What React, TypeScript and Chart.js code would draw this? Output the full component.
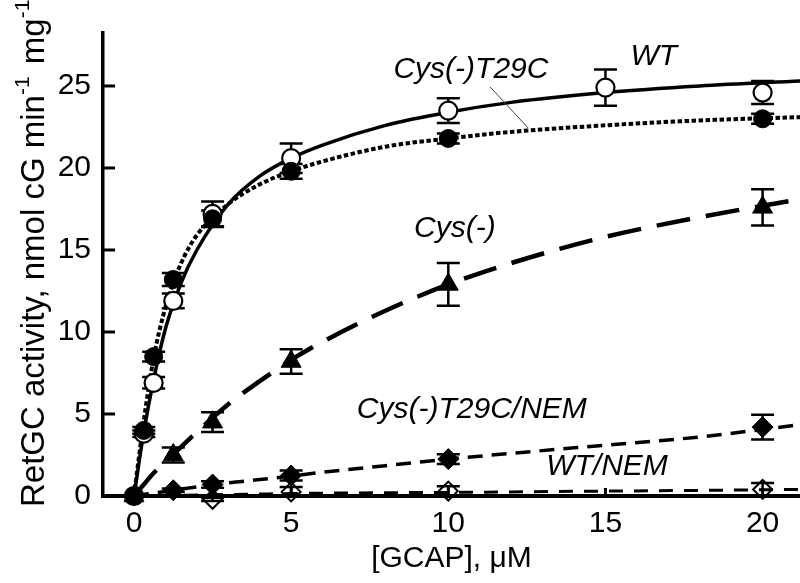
import React, { useEffect, useRef } from "react";
import { Chart, registerables } from "chart.js";
Chart.register(...registerables);

// ---- data ----
const gcapWT = [0, 0.3125, 0.625, 1.25, 2.5, 5, 10, 15, 20];
const activityWT = [0, 3.8, 6.9, 11.9, 17.2, 20.6, 23.5, 24.9, 24.6];
const errWT = [0, 0.2, 0.35, 0.45, 0.75, 0.9, 0.75, 1.1, 0.7];

const gcapT29C = [0, 0.3125, 0.625, 1.25, 2.5, 5, 10, 20];
const activityT29C = [0, 4.0, 8.5, 13.2, 16.9, 19.8, 21.8, 23.0];
const errT29C = [0, 0.2, 0.3, 0.4, 0.5, 0.45, 0.3, 0.3];

const gcapCys = [0, 1.25, 2.5, 5, 10, 20];
const activityCys = [0, 2.5, 4.5, 8.2, 12.9, 17.6];
const errCys = [0, 0.45, 0.6, 0.75, 1.3, 1.1];

const gcapT29CNEM = [1.25, 2.5, 5, 10, 20];
const activityT29CNEM = [0.35, 0.7, 1.25, 2.25, 4.2];
const errT29CNEM = [0.1, 0.2, 0.3, 0.3, 0.75];

const gcapWTNEM = [2.5, 5, 10, 20];
const activityWTNEM = [-0.2, 0.25, 0.3, 0.4];
const errWTNEM = [0.1, 0.3, 0.3, 0.4];

// fitted curves
const curveX = [0, 0.3125, 0.625, 1, 1.5, 2, 3, 4, 5, 6, 8, 10, 12, 15, 18, 21.2];
const curveWT = [0, 3.9, 7.1, 10.2, 13.0, 15.0, 17.8, 19.5, 20.6, 21.4, 22.6, 23.4, 24.0, 24.6, 25.0, 25.3];
const curveT29C = [0, 4.6, 8.4, 11.5, 14.2, 15.9, 17.8, 19.0, 19.8, 20.4, 21.3, 21.8, 22.2, 22.6, 22.9, 23.1];
const curveCys = [0, 0.7, 1.4, 2.1, 3.0, 3.9, 5.6, 7.0, 8.3, 9.4, 11.3, 12.9, 14.2, 15.8, 17.0, 18.1];
const curveT29CNEM = [0, 0.1, 0.18, 0.28, 0.42, 0.55, 0.8, 1.0, 1.22, 1.45, 1.85, 2.25, 2.6, 3.1, 3.6, 4.35];
const curveWTNEM = [0, 0, 0.01, 0.02, 0.04, 0.06, 0.09, 0.12, 0.15, 0.17, 0.2, 0.22, 0.25, 0.3, 0.34, 0.4];

const xTicks = [0, 5, 10, 15, 20];
const yTicks = [0, 5, 10, 15, 20, 25];

const xTitle = "[GCAP], \u03BCM";
const yTitleParts = [
  { text: "RetGC activity, nmol cG min", sup: false },
  { text: "-1", sup: true },
  { text: " mg", sup: false },
  { text: "-1", sup: true },
];

const labels = [
  { text: "WT", x: 16.54, y: 26.28 },
  { text: "Cys(-)T29C", x: 10.72, y: 25.49 },
  { text: "Cys(-)", x: 10.21, y: 15.79 },
  { text: "Cys(-)T29C/NEM", x: 10.75, y: 4.76 },
  { text: "WT/NEM", x: 15.05, y: 1.28 },
];
const leader = { x1: 11.33, y1: 24.94, x2: 12.54, y2: 22.44 };

const X_MIN = -0.986;
const X_MAX = 21.19;
const Y_MIN = 0;
const Y_MAX = 28.23;

const W = 800;
const H = 583;
const FONT = "'Liberation Sans', Arial, sans-serif";

const pts = (xs: number[], ys: number[]) => xs.map((x, i) => ({ x, y: ys[i] }));

const overlay = {
  id: "overlay",
  afterLayout(chart: any) {
    // stretch the plot area to the right edge of the canvas, as in the reference
    const x = chart.scales.x;
    x.right = W;
    x.width = W - x.left;
    x.configure();
    chart.chartArea.right = W;
    chart.chartArea.width = W - chart.chartArea.left;
  },
  beforeDatasetsDraw(chart: any) {
    const ctx = chart.ctx;
    const xs = chart.scales.x;
    const ys = chart.scales.y;
    ctx.save();
    ctx.strokeStyle = "#000";
    ctx.lineWidth = 2.5;
    chart.data.datasets.forEach((ds: any) => {
      if (!ds.errs) return;
      ds.data.forEach((p: any, i: number) => {
        const e = ds.errs[i];
        if (!e) return;
        const px = xs.getPixelForValue(p.x);
        const top = ys.getPixelForValue(p.y + e);
        const bot = ys.getPixelForValue(p.y - e);
        ctx.beginPath();
        ctx.moveTo(px, top);
        ctx.lineTo(px, bot);
        ctx.moveTo(px - 11.5, top);
        ctx.lineTo(px + 11.5, top);
        ctx.moveTo(px - 11.5, bot);
        ctx.lineTo(px + 11.5, bot);
        ctx.stroke();
      });
    });
    ctx.restore();
  },
  afterDatasetsDraw(chart: any) {
    const ctx = chart.ctx;
    const xs = chart.scales.x;
    const ys = chart.scales.y;
    const area = chart.chartArea;
    ctx.save();
    // inward tick marks
    ctx.strokeStyle = "#000";
    ctx.lineWidth = 3;
    yTicks.forEach((v) => {
      const py = ys.getPixelForValue(v);
      ctx.beginPath();
      ctx.moveTo(area.left, py);
      ctx.lineTo(area.left + 12, py);
      ctx.stroke();
    });
    xTicks.forEach((v) => {
      const px = xs.getPixelForValue(v);
      ctx.beginPath();
      ctx.moveTo(px, area.bottom);
      ctx.lineTo(px, area.bottom - 8);
      ctx.stroke();
    });
    // leader line
    ctx.strokeStyle = "#444";
    ctx.lineWidth = 1;
    ctx.beginPath();
    ctx.moveTo(xs.getPixelForValue(leader.x1), ys.getPixelForValue(leader.y1));
    ctx.lineTo(xs.getPixelForValue(leader.x2), ys.getPixelForValue(leader.y2));
    ctx.stroke();
    // series labels
    ctx.fillStyle = "#000";
    ctx.font = "italic 30px " + FONT;
    ctx.textAlign = "center";
    ctx.textBaseline = "alphabetic";
    labels.forEach((l) => {
      ctx.fillText(l.text, xs.getPixelForValue(l.x), ys.getPixelForValue(l.y));
    });
    // y title with superscripts
    ctx.translate(44, 507);
    ctx.rotate(-Math.PI / 2);
    ctx.textAlign = "left";
    let pos = 0;
    yTitleParts.forEach((part) => {
      ctx.font = (part.sup ? "21px " : "33px ") + FONT;
      ctx.fillText(part.text, pos, part.sup ? -15 : 0);
      pos += ctx.measureText(part.text).width + (part.sup ? 3 : 0);
    });
    ctx.restore();
  },
};

export default function App() {
  const ref = useRef<HTMLCanvasElement>(null);
  useEffect(() => {
    const canvas = ref.current;
    if (!canvas) return;
    const curve = (ys: number[], dash: number[], width: number) => ({
      data: pts(curveX, ys),
      borderColor: "#000",
      borderWidth: width,
      borderDash: dash,
      pointRadius: 0,
      fill: false,
      cubicInterpolationMode: "monotone" as const,
      clip: false as any,
      order: 10,
    });
    const markers = (xs: number[], ys: number[], errs: number[], style: string, radius: number, bg: string, bw: number) => ({
      data: pts(xs, ys),
      errs,
      showLine: false,
      pointStyle: style,
      pointRadius: radius,
      pointBackgroundColor: bg,
      pointBorderColor: "#000",
      pointBorderWidth: bw,
      clip: false as any,
      order: 1,
    });
    const chart = new Chart(canvas, {
      type: "line",
      data: {
        datasets: [
          curve(curveWTNEM, [14, 11], 3),
          curve(curveT29CNEM, [15, 9], 3.5),
          curve(curveCys, [34, 16], 4.5),
          curve(curveT29C, [4.5, 2.5], 4),
          curve(curveWT, [], 3.5),
          markers(gcapWTNEM, activityWTNEM, errWTNEM, "rectRot", 9.5, "rgba(0,0,0,0)", 2),
          markers(gcapT29CNEM, activityT29CNEM, errT29CNEM, "rectRot", 10.5, "#000", 1),
          markers(gcapCys, activityCys, errCys, "triangle", 11.5, "#000", 1),
          markers(gcapT29C, activityT29C, errT29C, "circle", 9, "#000", 1),
          markers(gcapWT, activityWT, errWT, "circle", 9, "#fff", 2.2),
        ] as any,
      },
      options: {
        responsive: false,
        animation: false,
        events: [],
        layout: { padding: { top: 33, left: 0, right: 0, bottom: 0 } },
        plugins: { legend: { display: false }, tooltip: { enabled: false } },
        scales: {
          x: {
            type: "linear",
            min: X_MIN,
            max: X_MAX,
            afterFit: (s: any) => {
              s.height = H - 496;
              s.paddingLeft = 0;
              s.paddingRight = 0;
            },
            afterBuildTicks: (s: any) => {
              s.ticks = xTicks.map((v) => ({ value: v }));
            },
            grid: { display: false, drawTicks: false },
            border: { display: true, color: "#000", width: 4 },
            ticks: { font: { family: FONT, size: 30 }, color: "#000", padding: 10, maxRotation: 0, autoSkip: false },
            title: { display: true, text: xTitle, font: { family: FONT, size: 30 }, color: "#000", padding: { top: 0, bottom: 6 } },
          },
          y: {
            type: "linear",
            min: Y_MIN,
            max: Y_MAX,
            afterFit: (s: any) => {
              s.width = 103;
              s.paddingTop = 0;
              s.paddingBottom = 0;
            },
            afterBuildTicks: (s: any) => {
              s.ticks = yTicks.map((v) => ({ value: v }));
            },
            grid: { display: false, drawTicks: false },
            border: { display: true, color: "#000", width: 3.5 },
            ticks: { font: { family: FONT, size: 30 }, color: "#000", padding: 12, autoSkip: false },
          },
        },
      },
      plugins: [overlay],
    });
    return () => chart.destroy();
  }, []);
  return (
    <div style={{ position: "fixed", left: 0, top: 0, width: W, height: H, background: "#fff" }}>
      <canvas ref={ref} width={W} height={H} style={{ width: W, height: H, display: "block" }} />
    </div>
  );
}
